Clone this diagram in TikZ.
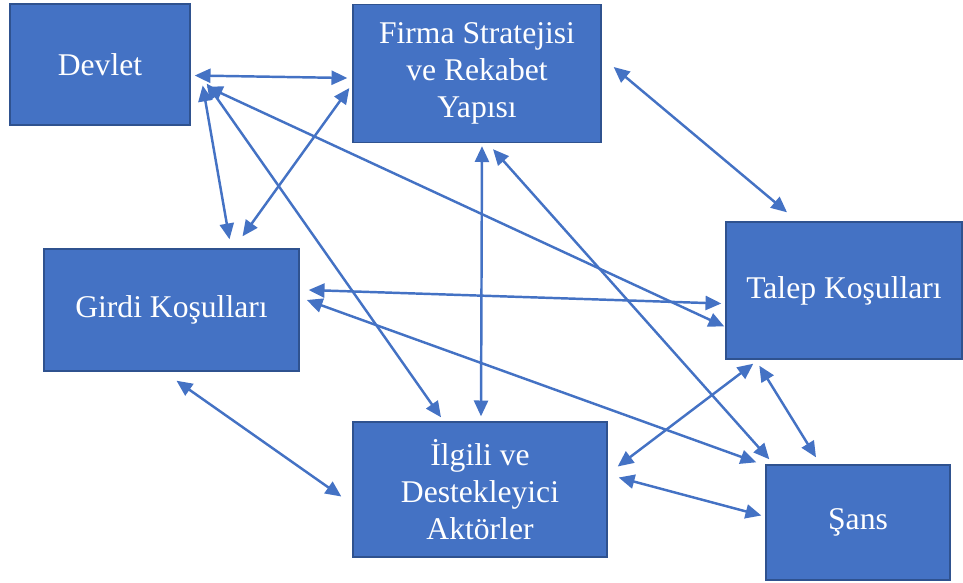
\documentclass[tikz,border=0pt]{standalone}
\usepackage{fontspec}
\setmainfont{Liberation Serif}
\usepackage{tikz}
\usetikzlibrary{arrows.meta}
\usetikzlibrary{calc}
\usepackage{xcolor}
\definecolor{kutumavi}{HTML}{4472C4}
\definecolor{kenarmavi}{HTML}{2F528F}

\begin{document}
\begin{tikzpicture}[x=0.02cm, y=-0.02cm,
	kutu/.style={rectangle, draw=kenarmavi, line width=0.8pt, fill=kutumavi, text=white, align=center, font=\fontsize{18}{21}\selectfont, inner sep=0pt},
	bag/.style={draw=kutumavi, line width=1.4pt, >={Triangle[length=9pt,width=8pt]}, <->}]
	\useasboundingbox (0,0) rectangle (963,582);
	\node[kutu, minimum width=3.6cm, minimum height=2.42cm] (devlet) at (100,64.5) {Devlet};
	\node[kutu, minimum width=4.96cm, minimum height=2.76cm] (firma) at (477,73.5) {Firma Stratejisi\\ve Rekabet\\Yapısı};
	\node[kutu, minimum width=4.72cm, minimum height=2.74cm] (talep) at (844,290.5) {Talep Koşulları};
	\node[kutu, minimum width=5.1cm, minimum height=2.44cm] (girdi) at (171.5,310) {Girdi Koşulları};
	\node[kutu, minimum width=5.08cm, minimum height=2.7cm] (ilgili) at (480,489.5) {İlgili ve\\Destekleyici\\Aktörler};
	\node[kutu, minimum width=3.68cm, minimum height=2.3cm] (sans) at (858,522.5) {Şans};
	\draw[bag] ($(devlet.east)+(4,11)$) -- ($(firma.west)+(-5,4.5)$);
	\draw[bag] ($(devlet.east)+(12,21)$) -- ($(girdi.north)+(58,-9)$);
	\draw[bag] ($(firma.west)+(-3,14.5)$) -- ($(girdi.north)+(71,-12)$);
	\draw[bag] ($(devlet.east)+(16,19)$) -- ($(ilgili.north)+(-39,-4)$);
	\draw[bag] ($(devlet.east)+(16,22)$) -- ($(talep.west)+(-1,36)$);
	\draw[bag] ($(firma.east)+(12,-6.5)$) -- ($(talep.north)+(-57,-9)$);
	\draw[bag] ($(firma.south)+(5,3)$) -- ($(ilgili.north)+(1,-5)$);
	\draw[bag] ($(firma.south)+(16,6)$) -- ($(sans.north west)+(4,-5)$);
	\draw[bag] ($(girdi.east)+(9,-20)$) -- ($(talep.west)+(-4,13)$);
	\draw[bag] ($(girdi.east)+(7,-10)$) -- ($(sans.north west)+(-9,-2)$);
	\draw[bag] ($(girdi.south)+(5,9)$) -- ($(ilgili.west)+(-11,7)$);
	\draw[bag] ($(talep.south west)+(28,4)$) -- ($(ilgili.east)+(10,-23)$);
	\draw[bag] ($(talep.south west)+(34,6)$) -- ($(sans.north)+(-42,-7)$);
	\draw[bag] ($(ilgili.east)+(11,-12)$) -- ($(sans.west)+(-4,-7)$);
\end{tikzpicture}
\end{document}
